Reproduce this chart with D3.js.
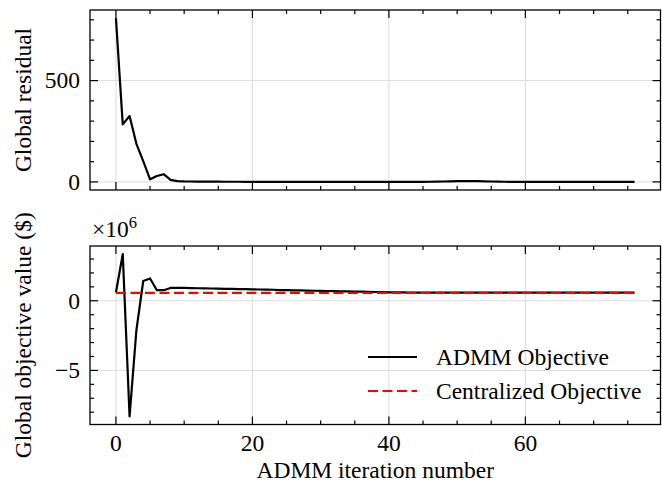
<!DOCTYPE html>
<html>
<head>
<meta charset="utf-8">
<script src="https://cdn.jsdelivr.net/npm/d3@7"></script>
<style>
  body { margin: 0; background: #fff; }
  text { font-family: "Liberation Serif", "DejaVu Serif", serif; fill: #000; }
</style>
</head>
<body>
<div class="chart"></div>
<script>
// iterations 0..76
const iterations = d3.range(0, 77);

const residual = [808, 284, 325, 188, 103, 13, 29, 38, 10, 4,
  2.5, 2, 1.5, 1.2, 1, 1, 0.9, 0.8, 0.8, 0.7,
  0.7, 0.6, 0.6, 0.6, 0.5, 0.5, 0.5, 0.5, 0.5, 0.5,
  0.5, 0.5, 0.5, 0.5, 0.5, 0.5, 0.5, 0.5, 0.5, 0.5,
  0.5, 0.5, 0.5, 0.5, 0.5, 0.6, 0.8, 1.2, 2, 3,
  3.5, 4, 4, 3.5, 3, 2, 1.2, 0.8, 0.6, 0.5,
  0.5, 0.5, 0.5, 0.5, 0.5, 0.5, 0.5, 0.5, 0.5, 0.5,
  0.5, 0.5, 0.5, 0.5, 0.5, 0.5, 0.5];

// objective values in units of 1e6 $
const admmObjective = [0.59, 3.35, -8.3, -2.1, 1.42, 1.6, 0.76, 0.76, 0.92, 0.93,
  0.92, 0.91, 0.90, 0.89, 0.88, 0.87, 0.86, 0.85, 0.84, 0.83,
  0.82, 0.81, 0.80, 0.79, 0.77, 0.76, 0.75, 0.74, 0.73, 0.72,
  0.71, 0.70, 0.69, 0.68, 0.67, 0.66, 0.65, 0.64, 0.63, 0.62,
  0.61, 0.60, 0.60, 0.59, 0.59, 0.58, 0.58, 0.58, 0.58, 0.58,
  0.58, 0.58, 0.58, 0.58, 0.58, 0.58, 0.58, 0.58, 0.58, 0.58,
  0.58, 0.58, 0.58, 0.58, 0.58, 0.58, 0.58, 0.58, 0.58, 0.58,
  0.58, 0.58, 0.58, 0.58, 0.58, 0.58, 0.58];
const centralizedObjective = iterations.map(() => 0.57);

const xTicks = [0, 20, 40, 60];
const topYTicks = [0, 500];
const botYTicks = [-5, 0];
const legendLabels = ["ADMM Objective", "Centralized Objective"];

const width = 662, height = 485;
const left = 90, right = 660.5;
const topPanel = {y0: 10, y1: 190};
const botPanel = {y0: 246, y1: 424.5};
const fs = 23.5;

const svg = d3.select('.chart')
    .append('svg')
    .attr('width', width)
    .attr('height', height);

// matplotlib-like 5% margins
function padded(lo, hi) {
    const m = (hi - lo) * 0.05;
    return [lo - m, hi + m];
}

const x = d3.scaleLinear()
    .domain(padded(0, 76))
    .range([left, right]);

const yTop = d3.scaleLinear()
    .domain(padded(d3.min(residual), d3.max(residual)))
    .range([topPanel.y1, topPanel.y0]);

const yBot = d3.scaleLinear()
    .domain(padded(d3.min(admmObjective), d3.max(admmObjective)))
    .range([botPanel.y1, botPanel.y0]);

function drawPanel(p, y, yTicks, yMinorStep, showXLabels) {
    const g = svg.append('g');
    const xMinor = d3.range(-0, 80, 5);
    const [ylo, yhi] = y.domain();
    const yMinor = d3.range(Math.ceil(ylo / yMinorStep) * yMinorStep, yhi, yMinorStep);

    // grid
    g.selectAll('.vgrid').data(xTicks).enter().append('line')
        .attr('x1', d => x(d)).attr('x2', d => x(d))
        .attr('y1', p.y0).attr('y2', p.y1)
        .attr('stroke', '#dcdcdc').attr('stroke-width', 1);
    g.selectAll('.hgrid').data(yTicks).enter().append('line')
        .attr('x1', left).attr('x2', right)
        .attr('y1', d => y(d)).attr('y2', d => y(d))
        .attr('stroke', '#dcdcdc').attr('stroke-width', 1);

    // inward ticks on all four sides
    const tk = g.append('g').attr('stroke', '#000').attr('stroke-width', 1.2);
    xMinor.forEach(v => {
        if (x(v) < left || x(v) > right) return;
        const len = xTicks.includes(v) ? 8 : 4;
        tk.append('line').attr('x1', x(v)).attr('x2', x(v)).attr('y1', p.y1).attr('y2', p.y1 - len);
        tk.append('line').attr('x1', x(v)).attr('x2', x(v)).attr('y1', p.y0).attr('y2', p.y0 + len);
    });
    yMinor.forEach(v => {
        const major = yTicks.some(t => Math.abs(t - v) < 1e-9);
        const len = major ? 8 : 4;
        tk.append('line').attr('x1', left).attr('x2', left + len).attr('y1', y(v)).attr('y2', y(v));
        tk.append('line').attr('x1', right).attr('x2', right - len).attr('y1', y(v)).attr('y2', y(v));
    });

    // y tick labels
    g.selectAll('.ylab').data(yTicks).enter().append('text')
        .attr('x', left - 10)
        .attr('y', d => y(d))
        .attr('dy', '0.33em')
        .attr('text-anchor', 'end')
        .attr('font-size', fs)
        .text(d => d < 0 ? '\u2212' + Math.abs(d) : d);

    if (showXLabels) {
        g.selectAll('.xlab').data(xTicks).enter().append('text')
            .attr('x', d => x(d))
            .attr('y', p.y1 + 26)
            .attr('text-anchor', 'middle')
            .attr('font-size', fs)
            .text(d => d);
    }
    return g;
}

const gTop = drawPanel(topPanel, yTop, topYTicks, 100, false);
const gBot = drawPanel(botPanel, yBot, botYTicks, 1, true);

const line = y => d3.line().x((d, i) => x(iterations[i])).y(d => y(d));

svg.append('path')
    .datum(residual)
    .attr('d', line(yTop))
    .attr('fill', 'none')
    .attr('stroke', '#000')
    .attr('stroke-width', 2.2)
    .attr('stroke-linejoin', 'round');

svg.append('path')
    .datum(admmObjective)
    .attr('d', line(yBot))
    .attr('fill', 'none')
    .attr('stroke', '#000')
    .attr('stroke-width', 2.2)
    .attr('stroke-linejoin', 'round');

svg.append('path')
    .datum(centralizedObjective)
    .attr('d', line(yBot))
    .attr('fill', 'none')
    .attr('stroke', '#ff0000')
    .attr('stroke-width', 2.2)
    .attr('stroke-dasharray', '10,4.5');

// frames
[topPanel, botPanel].forEach(p => {
    svg.append('rect')
        .attr('x', left).attr('y', p.y0)
        .attr('width', right - left).attr('height', p.y1 - p.y0)
        .attr('fill', 'none').attr('stroke', '#000').attr('stroke-width', 1.3);
});

// axis labels
svg.append('text')
    .attr('transform', `translate(23,${(topPanel.y0 + topPanel.y1) / 2}) rotate(-90)`)
    .attr('text-anchor', 'middle')
    .attr('dy', '0.35em')
    .attr('font-size', fs)
    .text('Global residual');

svg.append('text')
    .attr('transform', `translate(23,${(botPanel.y0 + botPanel.y1) / 2}) rotate(-90)`)
    .attr('text-anchor', 'middle')
    .attr('dy', '0.35em')
    .attr('font-size', fs)
    .text('Global objective value ($)');

svg.append('text')
    .attr('x', (left + right) / 2)
    .attr('y', 478)
    .attr('text-anchor', 'middle')
    .attr('font-size', fs)
    .text('ADMM iteration number');

// offset text x10^6
const off = svg.append('text')
    .attr('x', 92)
    .attr('y', 237)
    .attr('font-size', fs);
off.append('tspan').text('\u00d710');
off.append('tspan').attr('dy', -9).attr('font-size', 16.5).text('6');

// legend
const legend = svg.append('g');
const legendStyles = [
    {stroke: '#000', dash: null},
    {stroke: '#ff0000', dash: '10,4.5'}
];
legendLabels.forEach((lab, i) => {
    const ly = 357 + i * 34;
    legend.append('line')
        .attr('x1', 368).attr('x2', 417)
        .attr('y1', ly).attr('y2', ly)
        .attr('stroke', legendStyles[i].stroke)
        .attr('stroke-width', 2.2)
        .attr('stroke-dasharray', legendStyles[i].dash);
    legend.append('text')
        .attr('x', 436)
        .attr('y', ly)
        .attr('dy', '0.35em')
        .attr('font-size', fs)
        .text(lab);
});
</script>
</body>
</html>
